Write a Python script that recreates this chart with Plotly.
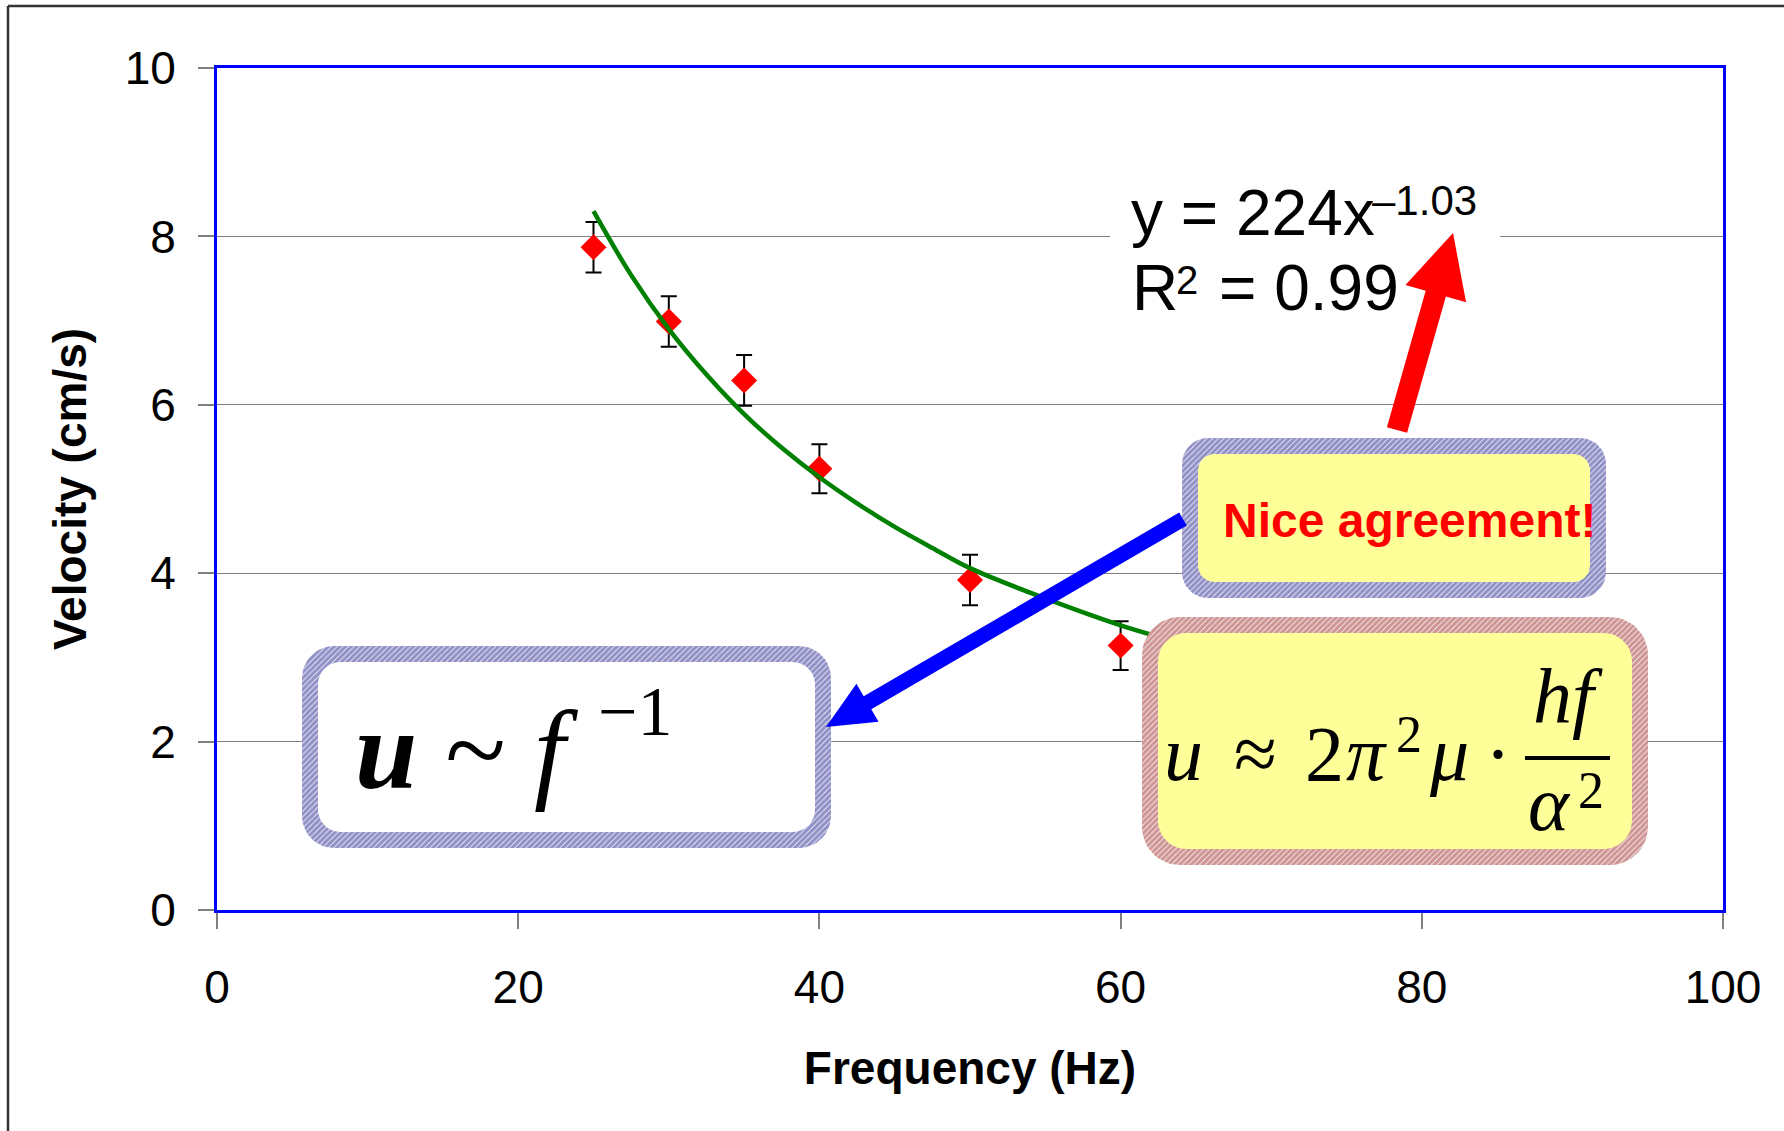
import math
import numpy as np
import plotly.graph_objects as go

# ---------------- data ----------------
freq_hz = [25, 30, 35, 40, 50, 60]
velocity_cms = [7.87, 6.99, 6.29, 5.24, 3.92, 3.14]
velocity_err = [0.30, 0.30, 0.30, 0.29, 0.30, 0.29]

fit_freq_hz = [25, 27.5, 30, 32.5, 35, 37.5, 40, 42.5, 45, 47.5, 50, 55, 60, 63]
fit_velocity = [8.30, 7.54, 6.90, 6.36, 5.89, 5.49, 5.14, 4.83, 4.55, 4.30, 4.06, 3.70, 3.38, 3.22]

x_ticks = [0, 20, 40, 60, 80, 100]
y_ticks = [0, 2, 4, 6, 8, 10]

x_title = "Frequency (Hz)"
y_title = "Velocity (cm/s)"
fit_eq_main = "y = 224x"
fit_eq_exp = "–1.03"
r2_main_a = "R"
r2_sup = "2"
r2_main_b = "= 0.99"
note_text = "Nice agreement!"

# ---------------- geometry helpers ----------------
W, H = 1784, 1131
PL, PR, PT, PB = 217, 1723, 68, 910
XMAX, YMAX = 100, 10

def px(X):
    return (X - PL) / (PR - PL)

def py(Y):
    return (PB - Y) / (PB - PT)

def dx(X):
    return px(X) * XMAX

def dy(Y):
    return py(Y) * YMAX

SANS = "Liberation Sans, Arial, Helvetica, sans-serif"
SERIF = "Liberation Serif, Times New Roman, serif"


def rrect(xa, ya, xb, yb, r, n=14):
    pts = []
    corners = [(xb - r, ya + r, -90, 0), (xb - r, yb - r, 0, 90),
               (xa + r, yb - r, 90, 180), (xa + r, ya + r, 180, 270)]
    for cx, cy, a0, a1 in corners:
        for t in np.linspace(a0, a1, n):
            pts.append((cx + r * math.cos(math.radians(t)), cy + r * math.sin(math.radians(t))))
    pts.append(pts[0])
    return pts


def box_traces(outer, border, r, hatch_color, inner_color):
    xa, ya, xb, yb = outer
    o = rrect(xa, ya, xb, yb, r)
    i = rrect(xa + border, ya + border, xb - border, yb - border, max(r - border * 0.6, 4))
    t1 = go.Scatter(x=[dx(p[0]) for p in o], y=[dy(p[1]) for p in o], mode="lines",
                    fill="toself", fillcolor="white",
                    fillpattern=dict(shape="/", fgcolor=hatch_color, bgcolor="white",
                                     size=4, solidity=0.8),
                    line=dict(width=0), hoverinfo="skip", showlegend=False)
    t2 = go.Scatter(x=[dx(p[0]) for p in i], y=[dy(p[1]) for p in i], mode="lines",
                    fill="toself", fillcolor=inner_color, line=dict(width=0),
                    hoverinfo="skip", showlegend=False)
    return [t1, t2]


def arrow_path(tail, tip, shaft_w, head_len, head_w):
    tx, ty = tail
    hx, hy = tip
    L = math.hypot(hx - tx, hy - ty)
    ux, uy = (hx - tx) / L, (hy - ty) / L
    nx, ny = -uy, ux
    bx, by = hx - ux * head_len, hy - uy * head_len
    sw, hw = shaft_w / 2, head_w / 2
    pts = [(tx + nx * sw, ty + ny * sw), (bx + nx * sw, by + ny * sw),
           (bx + nx * hw, by + ny * hw), (hx, hy),
           (bx - nx * hw, by - ny * hw), (bx - nx * sw, by - ny * sw),
           (tx - nx * sw, ty - ny * sw)]
    return "M " + " L ".join(f"{px(x):.5f},{py(y):.5f}" for x, y in pts) + " Z"


def ann(text, X, Ybase, size, family=SANS, color="black", anchor="left",
        asc=0.905, desc=0.212):
    return dict(text=text, x=px(X), y=py(Ybase - (asc - desc) / 2 * size),
                xref="paper", yref="paper", xanchor=anchor, yanchor="middle",
                showarrow=False, borderpad=0,
                font=dict(size=size, family=family, color=color))


def sann(text, X, Ybase, size, anchor="center"):
    return ann(text, X, Ybase, size, family=SERIF, anchor=anchor, asc=0.891, desc=0.216)


# ---------------- figure ----------------
fig = go.Figure()

fig.add_trace(go.Scatter(
    x=freq_hz, y=velocity_cms, mode="markers",
    marker=dict(symbol="diamond", size=20, color="#FF0000", line=dict(width=0)),
    error_y=dict(type="data", array=velocity_err, color="black", thickness=2, width=8),
    hoverinfo="skip", showlegend=False))

fig.add_trace(go.Scatter(
    x=fit_freq_hz, y=fit_velocity, mode="lines",
    line=dict(color="#008000", width=4.5, shape="spline", smoothing=1.0),
    hoverinfo="skip", showlegend=False))

# annotation boxes
for t in box_traces((1182, 438, 1606, 598), 16, 26, "#22228F", "#FFFF99"):
    fig.add_trace(t)
for t in box_traces((302, 646, 831, 848), 16, 32, "#22228F", "white"):
    fig.add_trace(t)
for t in box_traces((1142, 617, 1648, 865), 16, 38, "#9E2A2A", "#FFFF99"):
    fig.add_trace(t)

shapes = []
# outer frame (top & left edges)
shapes.append(dict(type="line", xref="paper", yref="paper", x0=px(8), y0=py(6), x1=px(1800), y1=py(6),
                   line=dict(color="#333333", width=2.5)))
shapes.append(dict(type="line", xref="paper", yref="paper", x0=px(8), y0=py(6), x1=px(8), y1=py(1140),
                   line=dict(color="#333333", width=2.5)))
# white backing for the fit equation
shapes.append(dict(type="rect", xref="paper", yref="paper", x0=px(1110), x1=px(1500), y0=py(325), y1=py(168),
                   fillcolor="white", line=dict(width=0), layer="above"))
# red arrow
shapes.append(dict(type="path", xref="paper", yref="paper",
                   path=arrow_path((1397, 430), (1453, 233), 21, 63, 63),
                   fillcolor="#FF0000", line=dict(width=0), layer="above"))
# blue arrow
shapes.append(dict(type="path", xref="paper", yref="paper",
                   path=arrow_path((1183, 519), (826, 727), 15, 48, 44),
                   fillcolor="#0000FF", line=dict(width=0), layer="above"))
# fraction bar
shapes.append(dict(type="line", xref="paper", yref="paper", x0=px(1525), x1=px(1610), y0=py(758), y1=py(758),
                   line=dict(color="black", width=4), layer="above"))

annotations = [
    # fit equation
    ann(fit_eq_main, 1130, 235, 64),
    ann(fit_eq_exp, 1371, 215, 42),
    ann(r2_main_a, 1131, 310, 64),
    ann(r2_sup, 1175, 294, 40),
    ann(r2_main_b, 1218, 310, 64),
    # note
    ann(f"<b>{note_text}</b>", 1409, 537, 48, color="#FF0000", anchor="center"),
    # u ~ f^-1
    sann("<b><i>u</i></b> ~ <i>f</i>", 354, 788, 112, anchor="left"),
    sann("−1", 597, 735, 70, anchor="left"),
    # u ≈ 2π²μ · hf/α²
    sann("<i>u</i>", 1183, 780, 78),
    sann("≈", 1255, 780, 78),
    sann("2", 1324, 780, 78),
    sann("<i>π</i>", 1366, 780, 78),
    sann("2", 1409, 752, 52),
    sann("<i>μ</i>", 1449, 780, 78),
    sann("·", 1498, 780, 78),
    sann("<i>hf</i>", 1568, 723, 78),
    sann("<i>α</i>", 1549, 830, 78),
    sann("2", 1591, 808, 52),
]

fig.update_layout(
    width=W, height=H,
    margin=dict(l=PL, r=W - PR, t=PT, b=H - PB, pad=0),
    paper_bgcolor="white", plot_bgcolor="white", showlegend=False,
    hovermode=False,
    font=dict(family=SANS, color="black"),
    shapes=shapes, annotations=annotations,
    xaxis=dict(range=[0, XMAX], tickvals=x_ticks, ticktext=[str(v) for v in x_ticks],
               ticks="outside", ticklen=16, tickwidth=1.5, tickcolor="#808080",
               showline=True, linecolor="#0000FF", linewidth=3, mirror=True,
               showgrid=False, zeroline=False, tickfont=dict(size=46, color="black"),
               ticklabelstandoff=19,
               title=dict(text=f"<b>{x_title}</b>", font=dict(size=46, color="black"), standoff=40)),
    yaxis=dict(range=[0, YMAX], tickvals=y_ticks, ticktext=[str(v) for v in y_ticks],
               ticks="outside", ticklen=16, tickwidth=1.5, tickcolor="#808080",
               showline=True, linecolor="#0000FF", linewidth=3, mirror=True,
               showgrid=True, gridcolor="#808080", gridwidth=1, zeroline=False,
               tickfont=dict(size=46, color="black"), ticklabelstandoff=13,
               title=dict(text=f"<b>{y_title}</b>", font=dict(size=46, color="black"), standoff=24)),
)

fig.write_html("out.html", config={"displayModeBar": False},
               post_script="document.body.style.margin='0';document.body.style.overflow='hidden';")
